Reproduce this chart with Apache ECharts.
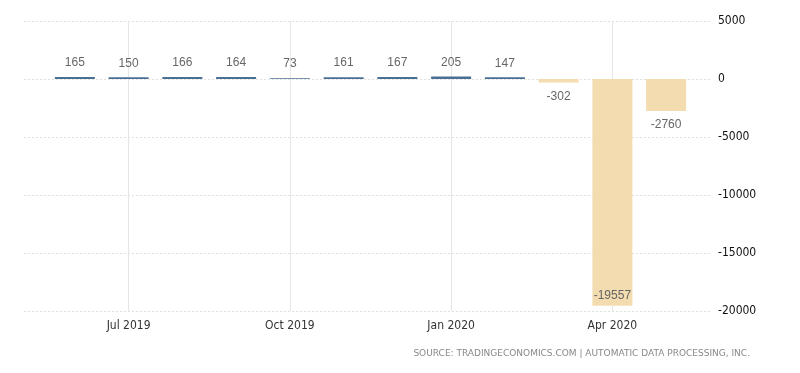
<!DOCTYPE html>
<html>
<head>
<meta charset="utf-8">
<script src="https://cdn.jsdelivr.net/npm/echarts@6/dist/echarts.min.js"></script>
<style>html,body{margin:0;padding:0;background:#fff}#c{width:800px;height:373px}</style>
</head>
<body>
<div id="c"></div>
<script>
var categories = ['Jun 2019','Jul 2019','Aug 2019','Sep 2019','Oct 2019','Nov 2019','Dec 2019','Jan 2020','Feb 2020','Mar 2020','Apr 2020','May 2020'];
var values = [165, 150, 166, 164, 73, 161, 167, 205, 147, -302, -19557, -2760];
var labelPositions = ['top','top','top','top','top','top','top','top','top','bottom','insideBottom','bottom'];
var tickLabels = ['Jul 2019','Oct 2019','Jan 2020','Apr 2020'];
var yTicks = {min: -20000, max: 5000, interval: 5000};

var chart = echarts.init(document.getElementById('c'), null, {renderer: 'canvas'});
var data = values.map(function (v, i) {
  return {
    value: v,
    itemStyle: {color: v >= 0 ? '#4a6f95' : '#f2dcb0'},
    label: {position: labelPositions[i], distance: labelPositions[i] === 'insideBottom' ? 4 : 8}
  };
});
var font = 'DejaVu Sans Condensed, Liberation Sans, sans-serif';
var showTick = function (idx, name) { return tickLabels.indexOf(name) >= 0; };
chart.setOption({
  animation: false,
  grid: [
    {left: 24, right: 88, top: 21, bottom: 62},
    {left: 48, right: 107, top: 21, bottom: 62}
  ],
  xAxis: [
    {gridIndex: 0, type: 'value', min: 0, max: 1, show: false},
    {
      gridIndex: 1,
      type: 'category',
      data: categories,
      axisLine: {show: false},
      axisTick: {show: true, alignWithLabel: true, interval: showTick, length: 5,
        lineStyle: {color: '#e2e2e2'}},
      axisLabel: {
        color: '#333', fontSize: 12, fontFamily: font, margin: 9,
        interval: showTick
      },
      splitLine: {show: false}
    }
  ],
  yAxis: [
    {
      gridIndex: 0,
      type: 'value',
      position: 'right',
      min: yTicks.min, max: yTicks.max, interval: yTicks.interval,
      axisLine: {show: false},
      axisTick: {show: false},
      axisLabel: {color: '#111', fontSize: 12, fontFamily: font, margin: 6,
        formatter: function (v) { return String(v); }},
      splitLine: {show: true, lineStyle: {color: '#e0e0e0', type: [2, 2]}}
    },
    {
      gridIndex: 1,
      type: 'value',
      min: yTicks.min, max: yTicks.max, interval: yTicks.interval,
      show: false
    }
  ],
  series: [{
    type: 'bar',
    xAxisIndex: 1,
    yAxisIndex: 1,
    barWidth: 40,
    z: 3,
    data: data,
    label: {
      show: true, color: '#666', fontSize: 12,
      fontFamily: 'Liberation Sans, Arial, sans-serif'
    },
    markLine: {
      silent: true,
      z: 1,
      symbol: 'none',
      label: {show: false},
      lineStyle: {color: '#e6e6e6', type: 'solid', width: 1},
      data: tickLabels.map(function (t) { return {xAxis: t}; })
    }
  }],
  graphic: [{
    type: 'text', right: 50, top: 349,
    style: {
      text: 'SOURCE: TRADINGECONOMICS.COM | AUTOMATIC DATA PROCESSING, INC.',
      fill: '#888', font: '9px "DejaVu Sans", sans-serif'
    }
  }]
});
</script>
</body>
</html>
